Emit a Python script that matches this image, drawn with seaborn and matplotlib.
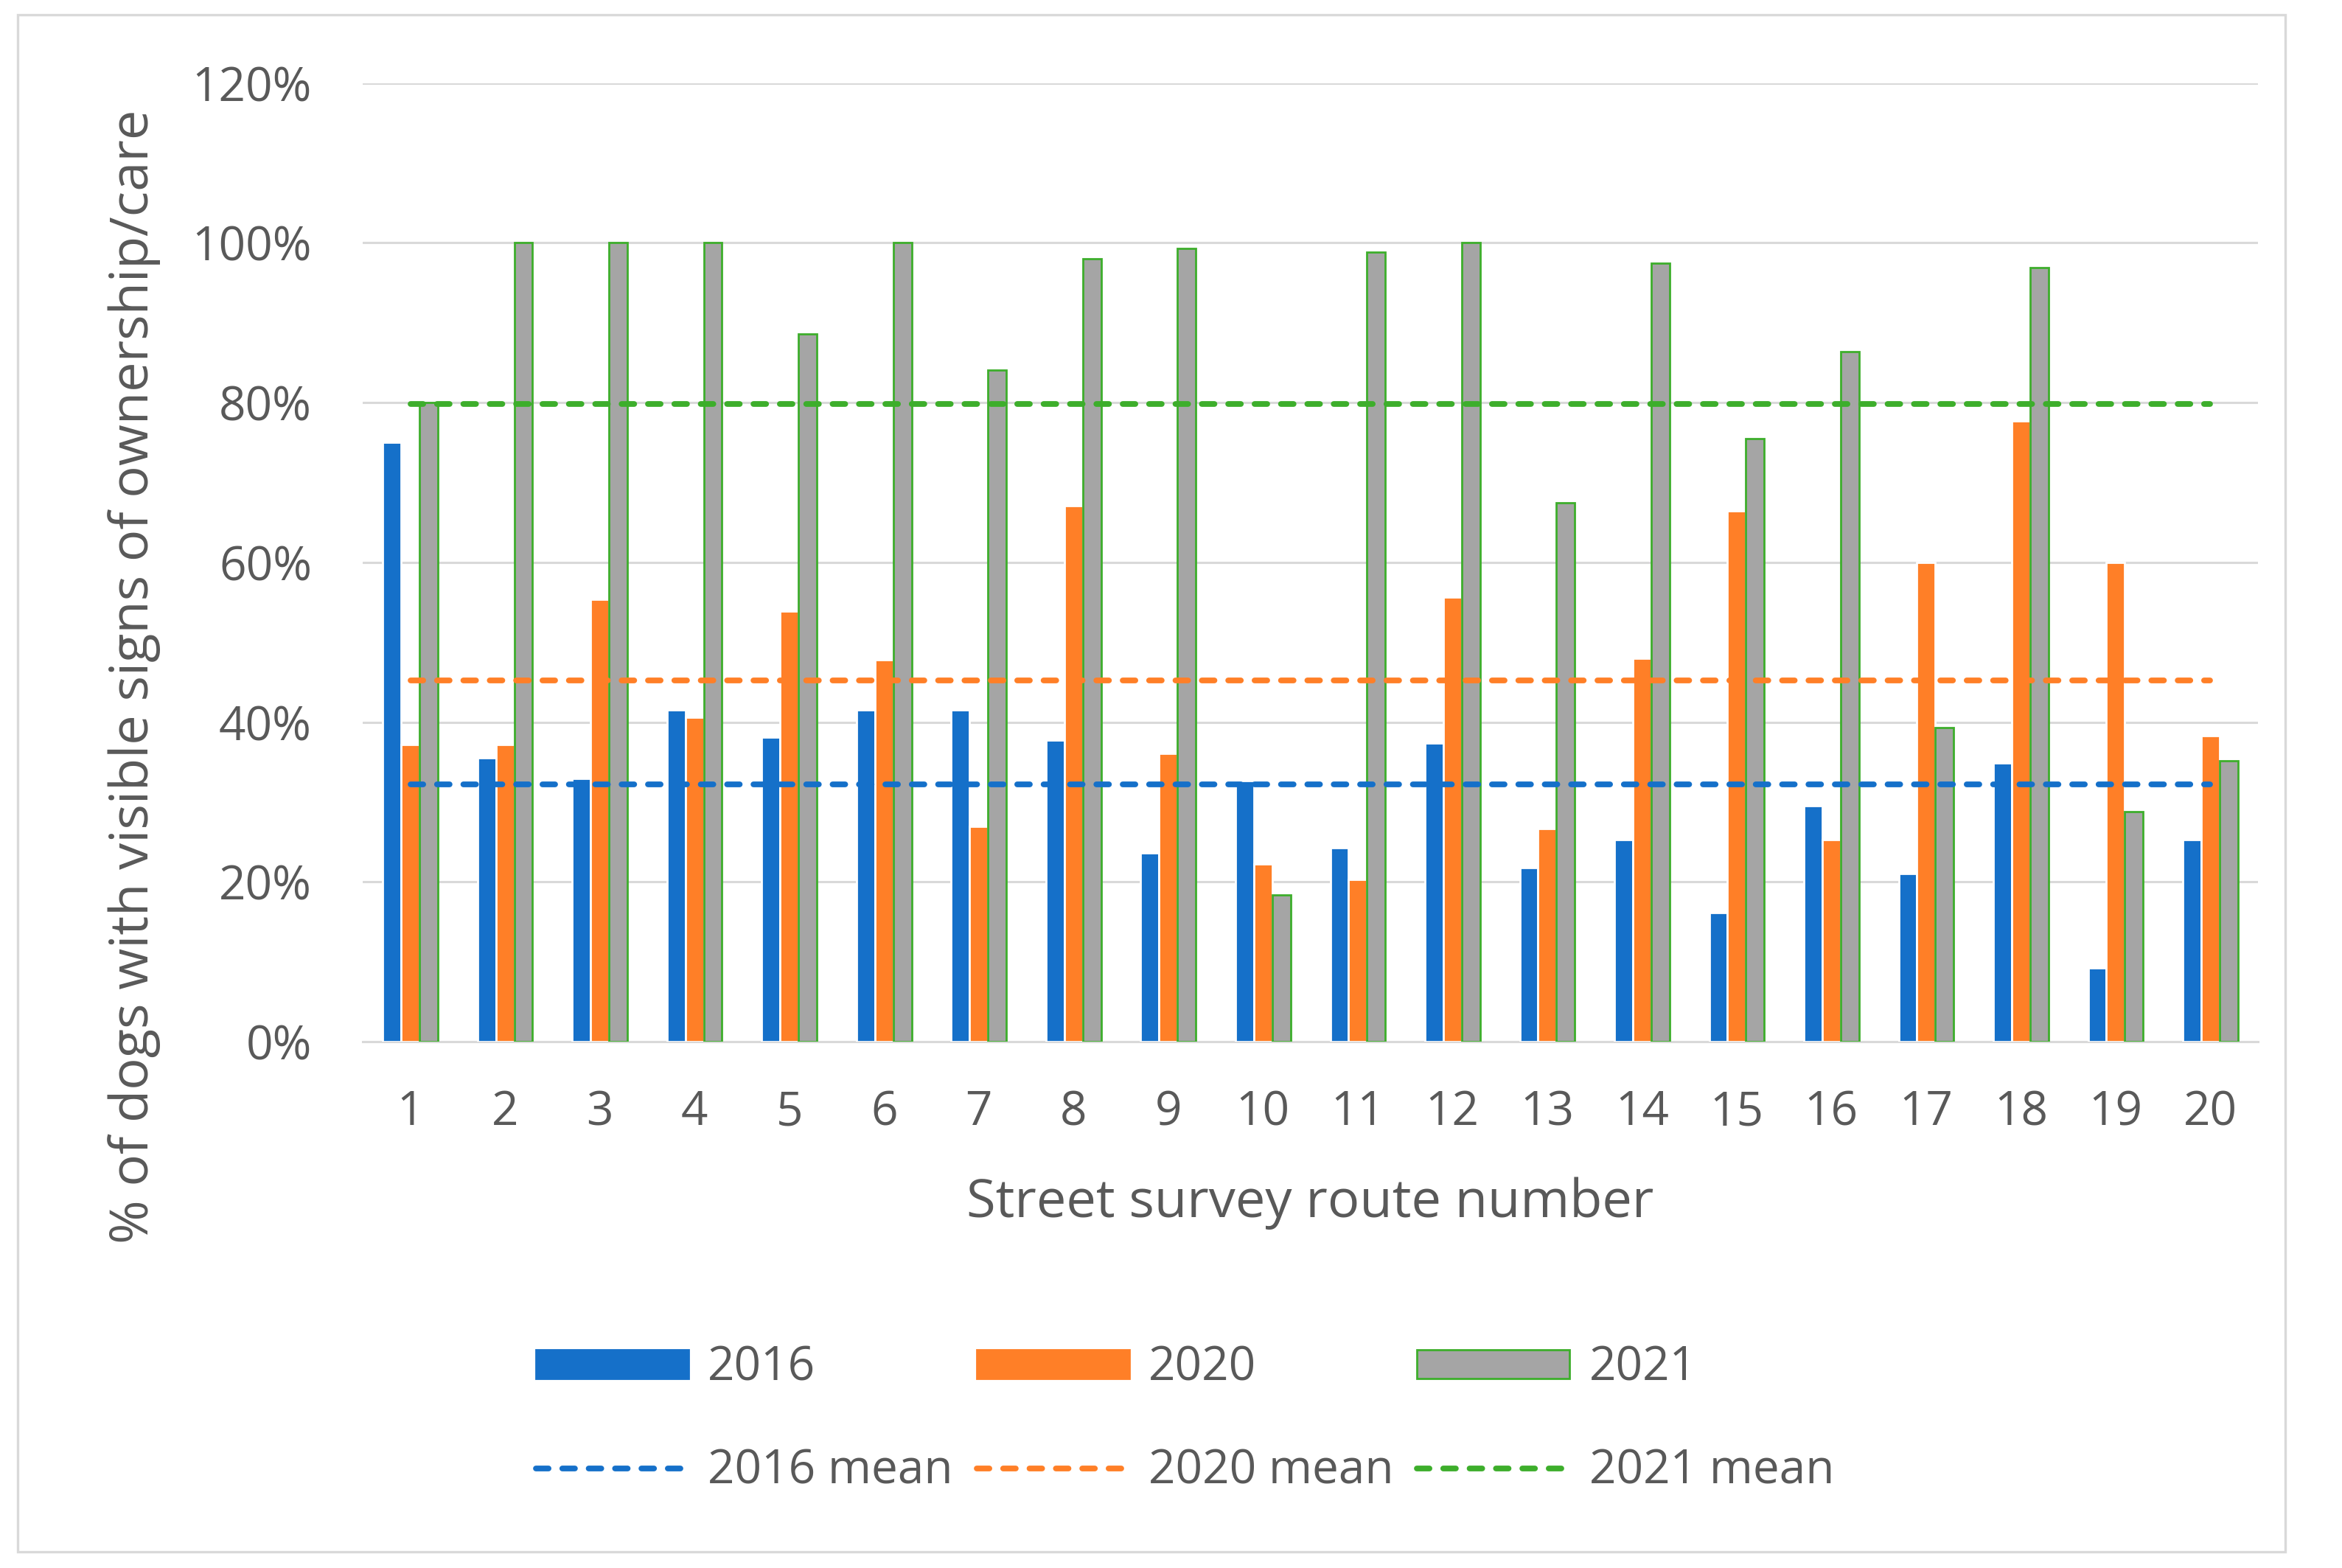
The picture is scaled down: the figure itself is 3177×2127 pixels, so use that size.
import matplotlib
matplotlib.use("Agg")
import matplotlib.pyplot as plt
import seaborn as sns
import numpy as np
import pandas as pd
from matplotlib.patches import Patch, Rectangle
from matplotlib.lines import Line2D

### data ###

routes = [str(i) for i in range(1, 21)]
pct_2016 = [75.0, 35.5, 33.0, 41.5, 38.1, 41.5, 41.5, 37.8, 23.6, 32.7,
            24.3, 37.4, 21.8, 25.3, 16.2, 29.5, 21.1, 34.9, 9.2, 25.3]
pct_2020 = [37.2, 37.2, 55.4, 40.6, 53.9, 47.8, 27.0, 67.1, 36.1, 22.3,
            20.3, 55.7, 26.7, 48.0, 66.5, 25.3, 60.0, 77.7, 60.0, 38.3]
pct_2021 = [80.0, 100.0, 100.0, 100.0, 88.6, 100.0, 84.1, 98.0, 99.3, 18.4,
            98.8, 100.0, 67.5, 97.5, 75.5, 86.4, 39.3, 96.9, 28.8, 35.2]
years = ["2016", "2020", "2021"]
means = [32.2, 45.2, 79.8]

blue = "#1570C9"
orange = "#FF7F27"
grey = "#A5A5A5"
green = "#3DAE2B"
text_col = "#595959"
grid_col = "#D9D9D9"

df = pd.DataFrame({
    "route": routes * 3,
    "pct": np.array(pct_2016 + pct_2020 + pct_2021) / 100.0,
    "year": [y for y in years for _ in routes],
})

sns.set_style("white")
plt.rcParams["font.family"] = ["Open Sans", "DejaVu Sans"]
plt.rcParams["text.color"] = text_col

fig = plt.figure(figsize=(15.885, 10.635), dpi=200)
ax = fig.add_axes([0.155, 0.3356, 0.809, 0.6114])

sns.barplot(data=df, x="route", y="pct", hue="year", hue_order=years,
            palette=[blue, orange, grey], width=0.58, gap=0, dodge=True,
            saturation=1, legend=False, ax=ax, zorder=3)

for bar in ax.containers[2]:
    bar.set_edgecolor(green)
    bar.set_linewidth(1.0)

# mean lines
dash = (0, (2.2, 2.4))
mlw = 2.8
for m, c in zip(means, [blue, orange, green]):
    ax.hlines(m / 100.0, 0, 19, colors=c, linestyles=dash, linewidth=mlw,
              capstyle="round", zorder=4)

ax.set_xlim(-0.5, 19.5)
ax.set_ylim(0, 1.2)
ax.set_yticks(np.arange(0, 1.21, 0.2))
ax.set_yticklabels(["{:.0f}%".format(v * 100) for v in np.arange(0, 1.21, 0.2)])
ax.yaxis.grid(True, color=grid_col, linewidth=1.1, zorder=0)
ax.set_axisbelow(True)
for s in ["top", "right", "left"]:
    ax.spines[s].set_visible(False)
ax.spines["bottom"].set_color(grid_col)
ax.spines["bottom"].set_linewidth(1.1)
ax.tick_params(axis="both", length=0, labelsize=23, colors=text_col)
ax.tick_params(axis="y", pad=25)
ax.tick_params(axis="x", pad=23)

ax.set_xlabel("Street survey route number", fontsize=26, color=text_col, labelpad=20)
ax.set_ylabel("% of dogs with visible signs of ownership/care", fontsize=26,
              color=text_col, va="center")
ax.yaxis.set_label_coords(-0.1206, 0.381)

handles = [
    Patch(facecolor=blue, edgecolor=blue),
    Line2D([0], [0], color=blue, linestyle=dash, linewidth=mlw, dash_capstyle="round"),
    Patch(facecolor=orange, edgecolor=orange),
    Line2D([0], [0], color=orange, linestyle=dash, linewidth=mlw, dash_capstyle="round"),
    Patch(facecolor=grey, edgecolor=green, linewidth=1.0),
    Line2D([0], [0], color=green, linestyle=dash, linewidth=mlw, dash_capstyle="round"),
]
labels = ["2016", "2016 mean", "2020", "2020 mean", "2021", "2021 mean"]
fig.legend(handles, labels, ncol=3, loc="center", bbox_to_anchor=(0.506, 0.0946),
           frameon=False, fontsize=23, handlelength=3.24, handleheight=0.57,
           handletextpad=0.41, columnspacing=0.5, labelspacing=1.19)

# light frame around the whole chart
fig.add_artist(Rectangle((0.0077, 0.0105), 0.968, 0.98, transform=fig.transFigure,
                         fill=False, edgecolor=grid_col, linewidth=1.2))

fig.savefig("out.png", dpi=200, facecolor="white")
